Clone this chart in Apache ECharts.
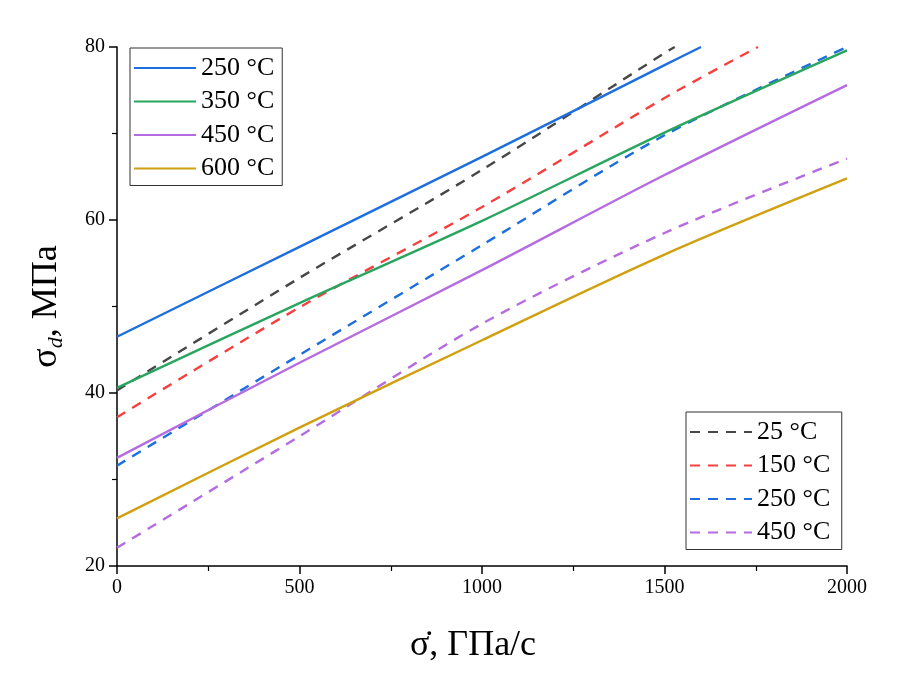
<!DOCTYPE html>
<html>
<head>
<meta charset="UTF-8">
<title>sigma_d vs rate</title>
<script src="https://cdn.jsdelivr.net/npm/echarts@6/dist/echarts.min.js"></script>
<style>
  html, body { margin: 0; background: #fff; }
  #main { width: 906px; height: 687px; }
</style>
</head>
<body>
<div id="main"></div>
<script>
// stress rate, GPa/s
const rateFull = [0, 500, 1000, 1500, 2000];

// solid lines
const solidNames = ['250 °C', '350 °C', '450 °C', '600 °C'];
const solid250X = [0, 500, 1000, 1500, 1600];
const solid250 = [46.5, 56.9, 67.3, 77.9, 80];
const solid350 = [40.6, 50.4, 59.9, 70.1, 79.6];
const solid450 = [32.5, 43.5, 54.2, 65.2, 75.6];
const solid600 = [25.5, 36.0, 46.1, 56.0, 64.8];

// dashed lines
const dashNames = ['25 °C ', '150 °C ', '250 °C ', '450 °C '];
const dash25X = [0, 500, 1000, 1500, 1528];
const dash25 = [40.3, 53.3, 65.8, 79.3, 80];
const dash150X = [0, 500, 1000, 1500, 1756];
const dash150 = [37.2, 49.9, 61.5, 74.1, 80];
const dash250 = [31.6, 44.4, 57.1, 69.8, 80.0];
const dash450 = [22.1, 35.0, 48.0, 58.5, 67.1];

const font = 'Liberation Serif, Times New Roman, serif';
const pairs = (xs, ys) => xs.map((x, i) => [x, ys[i]]);

function line(name, xs, ys, color, dashed) {
  return {
    name: name,
    type: 'line',
    data: pairs(xs, ys),
    symbol: 'none',
    smooth: 0.3,
    color: color,
    lineStyle: { color: color, width: 2.4, type: dashed ? [10, 8] : 'solid' },
    emphasis: { disabled: true }
  };
}

const legendBase = {
  orient: 'vertical',
  selectedMode: false,
  itemWidth: 62,
  itemHeight: 14,
  itemGap: 7.5,
  borderColor: '#333',
  borderWidth: 1,
  borderRadius: 0,
  padding: [7, 8, 4, 3],
  itemStyle: { opacity: 0 },
  textStyle: { fontFamily: font, fontSize: 26, lineHeight: 26, color: '#000', padding: [0, 0, 0, 0] }
};

const chart = echarts.init(document.getElementById('main'));
chart.setOption({
  animation: false,
  backgroundColor: '#fff',
  grid: { left: 117, right: 59, top: 47, bottom: 121, containLabel: false },
  legend: [
    Object.assign({}, legendBase, { left: 130, top: 48, data: solidNames }),
    Object.assign({}, legendBase, { left: 686, top: 412, padding: [7, 5, 4, 3], data: dashNames })
  ],
  xAxis: {
    type: 'value',
    min: 0, max: 2000, interval: 500,
    name: 'σ\u0307, ГПа/с',
    nameLocation: 'middle',
    nameGap: 62,
    nameTextStyle: { fontFamily: font, fontSize: 36, color: '#000', padding: [0, 18, 0, 0] },
    axisLine: { lineStyle: { color: '#000', width: 1.5 } },
    axisTick: { inside: false, length: 8, lineStyle: { color: '#000', width: 1.5 } },
    minorTick: { show: true, splitNumber: 2, length: 5, lineStyle: { color: '#000', width: 1.2 } },
    axisLabel: { fontFamily: font, fontSize: 20, color: '#000', margin: 12, formatter: v => String(v) },
    splitLine: { show: false }
  },
  yAxis: {
    type: 'value',
    min: 20, max: 80, interval: 20,
    name: '{s|σ}{d|d}{s|, МПа}',
    nameLocation: 'middle',
    nameGap: 50,
    nameTextStyle: {
      rich: {
        s: { fontFamily: font, fontSize: 36, color: '#000', lineHeight: 40 },
        d: { fontFamily: font, fontSize: 22, fontStyle: 'italic', color: '#000', verticalAlign: 'bottom', lineHeight: 24 }
      }
    },
    axisLine: { lineStyle: { color: '#000', width: 1.5 } },
    axisTick: { inside: false, length: 8, lineStyle: { color: '#000', width: 1.5 } },
    minorTick: { show: true, splitNumber: 2, length: 5, lineStyle: { color: '#000', width: 1.2 } },
    axisLabel: { fontFamily: font, fontSize: 20, color: '#000', margin: 12 },
    splitLine: { show: false }
  },
  series: [
    line(dashNames[0], dash25X, dash25, '#474747', true),
    line(dashNames[1], dash150X, dash150, '#f5403f', true),
    line(dashNames[2], rateFull, dash250, '#1c6fdc', true),
    line(dashNames[3], rateFull, dash450, '#b46ce0', true),
    line(solidNames[0], solid250X, solid250, '#1c6fdc', false),
    line(solidNames[1], rateFull, solid350, '#2aa55f', false),
    line(solidNames[2], rateFull, solid450, '#b46ce0', false),
    line(solidNames[3], rateFull, solid600, '#d1a010', false)
  ]
});
</script>
</body>
</html>
